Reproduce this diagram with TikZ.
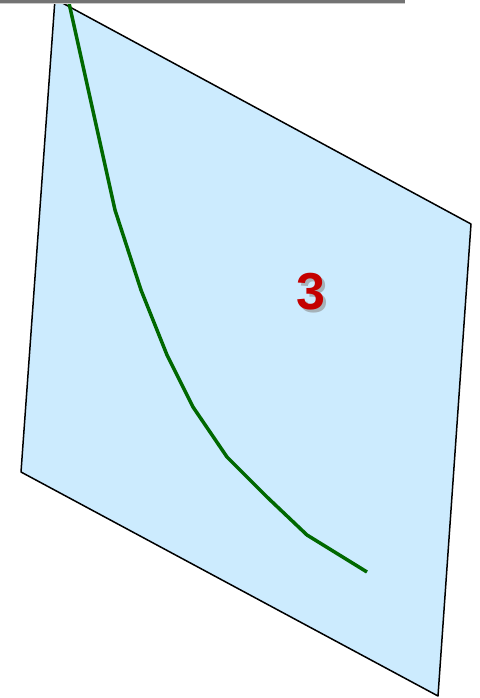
\documentclass[tikz,border=0pt]{standalone}
\usepackage{fontspec}
\setmainfont{Liberation Sans}
\definecolor{planefill}{RGB}{204,235,254}
\definecolor{curvegreen}{RGB}{0,104,0}
\definecolor{labelred}{RGB}{196,0,0}
\begin{document}
\begin{tikzpicture}[x=1pt,y=-1pt,
  plane/.style={draw=black,line width=1.5pt,fill=planefill,line join=round},
  curve/.style={draw=curvegreen,line width=3.5pt,line join=round},
  lbl/.style={font=\fontsize{52}{52}\selectfont\bfseries,inner sep=0pt}]
\useasboundingbox (0,0) rectangle (479,698);
\coordinate (T) at (55,-1);
\coordinate (R) at (471,224);
\coordinate (B) at (438,696);
\coordinate (L) at (21,472);
\fill[planefill] (T) -- (R) -- (B) -- (L) -- cycle;
\draw[plane] (T) -- (R) -- (B) -- (L) -- cycle;
\draw[curve] (69,3) -- (115,210) -- (141,290) -- (167,355) -- (193,407) -- (227,457) -- (267,497) -- (307,535) -- (367,572);
\node[lbl,text=black!45,opacity=0.6] (shadow) at (314,295) {3};
\node[lbl,text=labelred] (label) at (311,292) {3};
\fill[black!55] (0,0) rectangle (405,3);
\fill[black!20] (0,3) rectangle (405,4.5);
\end{tikzpicture}
\end{document}
